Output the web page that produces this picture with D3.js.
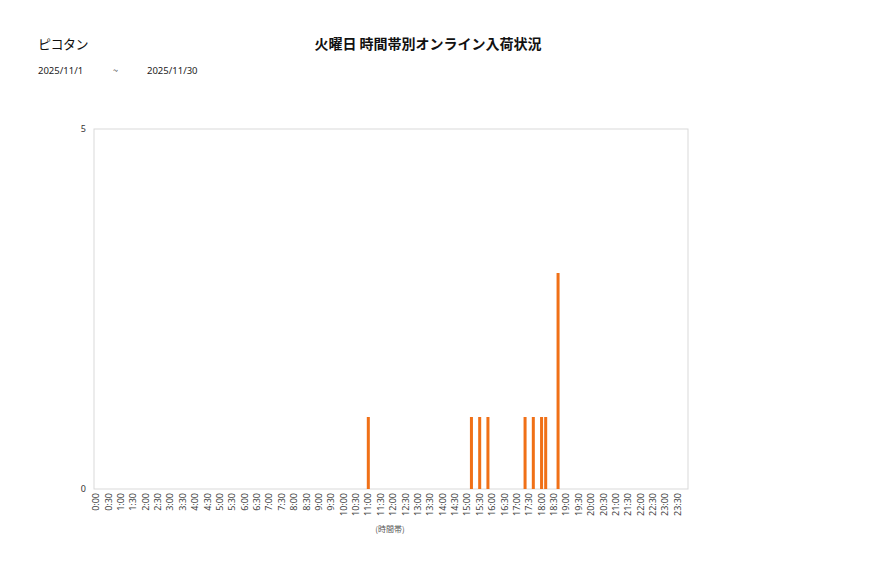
<!DOCTYPE html>
<html><head><meta charset="utf-8">
<script src="https://cdn.jsdelivr.net/npm/d3@7"></script>
<style>body{margin:0;background:#fff;font-family:"Noto Sans CJK JP","Noto Sans",sans-serif;}</style>
</head><body>
<svg id="c" width="877" height="578"></svg>
<script>
// Data
const storeName = "ピコタン";
const chartTitle = "火曜日 時間帯別オンライン入荷状況";
const dateFrom = "2025/11/1";
const dateTo = "2025/11/30";
const xAxisTitle = "(時間帯)";
// 10-minute slots with non-zero counts
const activeSlots = ["11:00","15:10","15:30","15:50","17:20","17:40","18:00","18:10","18:40"];
const activeValues = [1,1,1,1,1,1,1,1,3];
const yTicks = [0,5];

const slots = [];
for (let h=0; h<24; h++) for (let m=0; m<60; m+=10) slots.push(h+":"+(m===0?"00":m));
const data = slots.map(s => { const i = activeSlots.indexOf(s); return {slot:s, v: i>=0 ? activeValues[i] : 0}; });
const tickLabels = slots.filter((s,i)=> i%3===0);

const svg = d3.select("#c");
const L=94, R=688, T=129, B=489;
const x = d3.scaleBand().domain(slots).range([L,R]).paddingInner(0.27).paddingOuter(0.135);
const y = d3.scaleLinear().domain([0,5]).range([B,T]);

svg.append("rect").attr("x",L).attr("y",T).attr("width",R-L).attr("height",B-T)
  .attr("fill","none").attr("stroke","#d9d9d9").attr("stroke-width",1);

svg.append("g").selectAll("rect").data(data.filter(d=>d.v>0)).join("rect")
  .attr("x",d=>x(d.slot)).attr("y",d=>y(d.v)).attr("width",x.bandwidth()).attr("height",d=>B-y(d.v))
  .attr("fill","#F07017");

// y axis labels
const ya = d3.axisLeft(y).tickValues(yTicks).tickFormat(d3.format("d")).tickSize(0).tickPadding(8);
const yg = svg.append("g").attr("transform",`translate(${L},0)`).call(ya);
yg.select(".domain").remove();
yg.selectAll("text").attr("font-size",9).attr("fill","#333").attr("font-family","'Noto Sans',sans-serif");

// x axis labels
const xa = d3.axisBottom(x).tickValues(tickLabels).tickSize(0).tickPadding(0);
const xg = svg.append("g").attr("transform",`translate(0,${B})`).call(xa);
xg.select(".domain").remove();
xg.selectAll("text").attr("font-size",9).attr("fill","#444").attr("font-family","'Noto Sans',sans-serif")
  .attr("transform","rotate(-90)").attr("text-anchor","end").attr("dy","0.35em").attr("x",-4).attr("y",0);

svg.append("text").attr("x",390).attr("y",532).attr("text-anchor","middle").attr("font-size",8).attr("fill","#555").text(xAxisTitle);

svg.append("text").attr("x",38).attr("y",49).attr("font-size",13).attr("letter-spacing","-0.5").attr("fill","#111").text(storeName);
svg.append("text").attr("x",428).attr("y",49).attr("text-anchor","middle").attr("font-size",14).attr("font-weight","bold").attr("fill","#111").text(chartTitle);
svg.append("text").attr("x",38).attr("y",74).attr("font-size",9.5).attr("fill","#222").attr("font-family","'Noto Sans',sans-serif").text(dateFrom);
svg.append("text").attr("x",113).attr("y",74).attr("font-size",9).attr("fill","#222").text("~");
svg.append("text").attr("x",147).attr("y",74).attr("font-size",9.5).attr("fill","#222").attr("font-family","'Noto Sans',sans-serif").text(dateTo);
</script>
</body></html>
